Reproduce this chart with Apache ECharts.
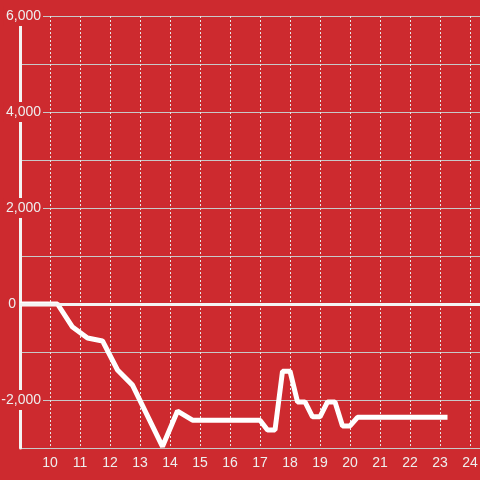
<!DOCTYPE html>
<html>
<head>
<meta charset="utf-8">
<script src="https://cdn.jsdelivr.net/npm/echarts@6/dist/echarts.min.js"></script>
<style>html,body{margin:0;padding:0;background:#cd2a2f;}#c{width:480px;height:480px;}</style>
</head>
<body>
<div id="c"></div>
<script>
// hours of day (x) and values (y)
var hours = [9, 10.25, 10.75, 11.25, 11.75, 12.25, 12.75, 13.75, 14.25, 14.75, 17, 17.25, 17.5, 17.75, 18, 18.25, 18.5, 18.75, 19, 19.25, 19.5, 19.75, 20, 20.25, 23.25];
var values = [0, 0, -480, -710, -770, -1375, -1690, -2970, -2230, -2420, -2420, -2625, -2625, -1400, -1400, -2040, -2040, -2350, -2350, -2040, -2040, -2540, -2540, -2360, -2360];
var yTicks = [-2000, 0, 2000, 4000, 6000];

var bg = '#cd2a2f';
var txt = '#eeeeee';
var chart = echarts.init(document.getElementById('c'), null, {renderer: 'canvas'});
var data = hours.map(function (h, i) { return [h, values[i]]; });

chart.setOption({
  backgroundColor: bg,
  animation: false,
  textStyle: {fontFamily: 'Liberation Sans'},
  grid: {left: 20, right: 0, top: 16, bottom: 32, containLabel: false, outerBoundsMode: 'none'},
  xAxis: {
    type: 'value', min: 9, max: 24.333, interval: 1,
    axisLine: {show: false}, axisTick: {show: false},
    axisLabel: {color: txt, fontSize: 14, margin: 8, showMinLabel: false, showMaxLabel: false, fontFamily: 'Liberation Sans'},
    splitLine: {show: true, lineStyle: {color: '#e6e6e6', width: 1, type: [2, 2]}}
  },
  yAxis: {
    type: 'value', min: -3000, max: 6000, interval: 1000,
    axisLine: {show: true, lineStyle: {color: '#f4f4f4', width: 3}},
    axisTick: {show: false},
    axisLabel: {
      color: txt, fontSize: 14, margin: -23, align: 'right', fontFamily: 'Liberation Sans',
      formatter: function (v) {
        if (yTicks.indexOf(v) < 0) return '';
        if (v === 0) return '{z|0}';
        return '{a|' + echarts.format.addCommas(v) + '}';
      },
      rich: {
        a: {color: txt, fontSize: 14, backgroundColor: bg, padding: [3, 2, 3, 2], fontFamily: 'Liberation Sans'},
        z: {color: txt, fontSize: 14, padding: [0, 27, 0, 0], fontFamily: 'Liberation Sans'}
      }
    },
    splitLine: {show: true, lineStyle: {color: '#c8c8c8', width: 1}}
  },
  series: [{
    type: 'line',
    data: data,
    showSymbol: false,
    symbol: 'none',
    lineStyle: {color: '#ffffff', width: 5},
    z: 3,
    markLine: {
      silent: true, symbol: 'none', label: {show: false},
      lineStyle: {color: '#f4f4f4', width: 3, type: 'solid'},
      emphasis: {disabled: true},
      data: [{yAxis: 0}]
    }
  }]
});
</script>
</body>
</html>
